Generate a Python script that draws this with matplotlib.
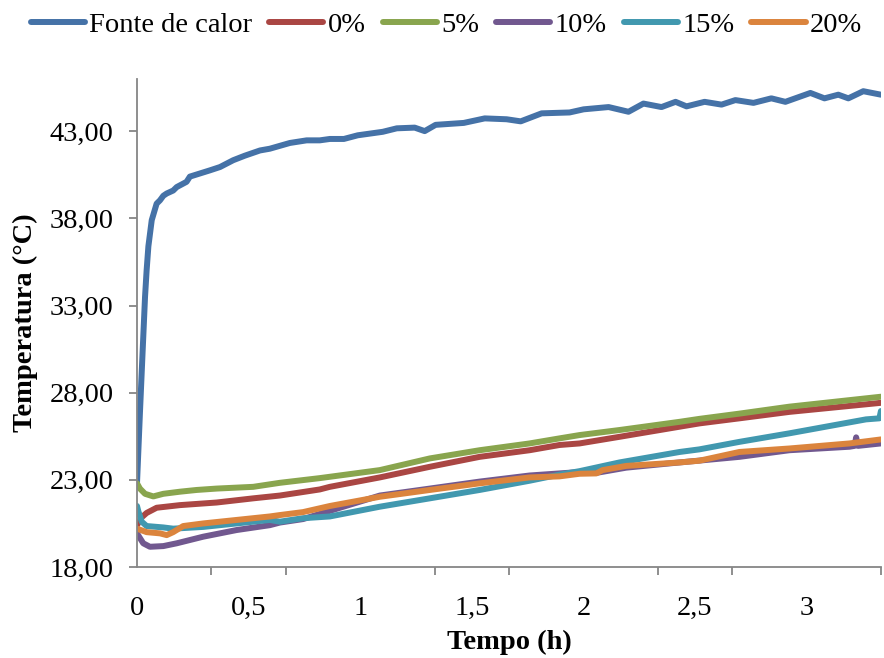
import matplotlib
matplotlib.use("Agg")
import matplotlib.pyplot as plt
import numpy as np

plt.rcParams['font.family'] = ['Liberation Serif', 'DejaVu Serif']
plt.rcParams['font.size'] = 20.5

# heating source and sample temperatures over time (h, °C)
t_fonte = [0, 0.013, 0.026, 0.036, 0.043, 0.051, 0.066, 0.088, 0.103, 0.118, 0.133, 0.162,
           0.178, 0.222, 0.237, 0.327, 0.372, 0.431, 0.483, 0.551, 0.595, 0.685, 0.760, 0.819,
           0.864, 0.927, 0.989, 1.101, 1.164, 1.244, 1.289, 1.338, 1.464, 1.558, 1.656, 1.719,
           1.813, 1.938, 2.001, 2.113, 2.202, 2.269, 2.350, 2.413, 2.462, 2.543, 2.619, 2.681,
           2.762, 2.842, 2.905, 3.017, 3.080, 3.142, 3.187, 3.254, 3.333]
T_fonte = [22.8, 26.8, 30.6, 33.5, 35.0, 36.4, 37.9, 38.85, 39.04, 39.3, 39.43, 39.6,
           39.8, 40.1, 40.4, 40.76, 40.95, 41.34, 41.6, 41.9, 42.0, 42.33, 42.48, 42.48,
           42.56, 42.56, 42.77, 42.97, 43.17, 43.21, 43.01, 43.37, 43.48, 43.74, 43.69, 43.57,
           44.03, 44.08, 44.26, 44.39, 44.12, 44.59, 44.39, 44.69, 44.43, 44.69, 44.53, 44.79,
           44.63, 44.89, 44.69, 45.2, 44.89, 45.1, 44.89, 45.3, 45.1]

t_0 = [0, 0.021, 0.043, 0.088, 0.192, 0.357, 0.521, 0.64, 0.819, 0.864, 1.088, 1.312,
       1.535, 1.759, 1.893, 1.983, 2.162, 2.431, 2.52, 2.699, 2.923, 3.333]
T_0 = [20.4, 20.85, 21.1, 21.4, 21.55, 21.7, 21.94, 22.1, 22.45, 22.6, 23.14, 23.75,
       24.32, 24.7, 25.0, 25.09, 25.47, 26.05, 26.24, 26.53, 26.9, 27.42]

t_5 = [0, 0.013, 0.036, 0.073, 0.118, 0.192, 0.267, 0.357, 0.521, 0.64, 0.819, 1.088,
       1.312, 1.535, 1.759, 1.893, 1.983, 2.162, 2.431, 2.52, 2.699, 2.923, 3.333]
T_5 = [22.8, 22.5, 22.2, 22.05, 22.2, 22.32, 22.42, 22.5, 22.6, 22.83, 23.1, 23.56,
       24.23, 24.7, 25.09, 25.38, 25.57, 25.86, 26.33, 26.5, 26.8, 27.2, 27.77]

t_10 = [0, 0.028, 0.058, 0.118, 0.178, 0.297, 0.446, 0.595, 0.64, 0.744, 1.088, 1.312,
        1.535, 1.759, 1.983, 2.058, 2.192, 2.431, 2.699, 2.923, 3.192, 3.215, 3.222, 3.23,
        3.333]
T_10 = [19.93, 19.36, 19.16, 19.2, 19.36, 19.74, 20.12, 20.4, 20.55, 20.75, 22.1, 22.5,
        22.9, 23.25, 23.45, 23.4, 23.7, 24.0, 24.32, 24.7, 24.9, 24.95, 25.44, 24.95,
        25.09]

t_15 = [0, 0.006, 0.021, 0.043, 0.118, 0.162, 0.297, 0.446, 0.595, 0.64, 0.744, 0.864,
        1.088, 1.312, 1.535, 1.759, 1.893, 1.983, 2.162, 2.431, 2.52, 2.699, 2.923, 3.266,
        3.326, 3.333]
T_15 = [21.5, 21.2, 20.6, 20.35, 20.27, 20.2, 20.3, 20.5, 20.7, 20.6, 20.8, 20.9,
        21.46, 21.94, 22.42, 22.95, 23.3, 23.5, 24.0, 24.6, 24.75, 25.18, 25.67, 26.47,
        26.53, 26.95]

t_20 = [0, 0.043, 0.103, 0.133, 0.162, 0.207, 0.297, 0.446, 0.595, 0.64, 0.744, 0.864,
        1.088, 1.312, 1.535, 1.759, 1.893, 1.983, 2.058, 2.086, 2.192, 2.431, 2.52, 2.699,
        2.923, 3.192, 3.333]
T_20 = [20.2, 20.0, 19.93, 19.83, 20.0, 20.35, 20.5, 20.7, 20.9, 20.98, 21.15, 21.5,
        22.03, 22.42, 22.8, 23.14, 23.2, 23.35, 23.37, 23.56, 23.8, 24.0, 24.1, 24.6,
        24.8, 25.09, 25.32]

series = [
    ("Fonte de calor", t_fonte, T_fonte, "#4572A7"),
    ("0%", t_0, T_0, "#AA4643"),
    ("5%", t_5, T_5, "#89A54E"),
    ("10%", t_10, T_10, "#71588F"),
    ("15%", t_15, T_15, "#4198AF"),
    ("20%", t_20, T_20, "#DB843D"),
]

y_ticks = [18, 23, 28, 33, 38, 43]
x_labels = [0, 0.5, 1, 1.5, 2, 2.5, 3]

fig = plt.figure(figsize=(8.84, 6.58), dpi=100)
ax = fig.add_axes([137 / 884, 1 - 567 / 658, 744 / 884, 488 / 658])

for name, t, T, c in series:
    ax.plot(t, T, color=c, lw=4.3, label=name, solid_capstyle='round', solid_joinstyle='round')

ax.set_xlim(0, 10 / 3)
ax.set_ylim(18, 46)

grey = "#868686"
for side in ["top", "right"]:
    ax.spines[side].set_visible(False)
for side in ["left", "bottom"]:
    ax.spines[side].set_color(grey)
    ax.spines[side].set_linewidth(1.3)

ax.set_yticks(y_ticks)
ax.set_yticklabels([f"{v:.2f}".replace(".", ",") for v in y_ticks])
ax.tick_params(axis='y', direction='out', length=6, width=1.3, color=grey, pad=11)

# labels sit between the tick marks, ticks every 1/3 h
ax.set_xticks(x_labels)
ax.set_xticklabels([f"{v:g}".replace(".", ",") for v in x_labels])
ax.tick_params(axis='x', which='major', length=0, pad=21)
ax.set_xticks(np.arange(0, 3.4, 1 / 3), minor=True)
ax.tick_params(axis='x', which='minor', direction='out', length=6, width=1.3, color=grey)

ax.set_xlabel("Tempo (h)", fontweight='bold')
ax.xaxis.set_label_coords(0.5, -0.129)
ax.set_ylabel("Temperatura (°C)", fontweight='bold')
ax.yaxis.set_label_coords(-0.133, 0.5)

fig.legend(loc='center', bbox_to_anchor=(0.505, 0.962), ncol=6, frameon=False,
           handlelength=1.9, handletextpad=0.15, columnspacing=0.6, borderpad=0)

fig.savefig("out.png", dpi=100)
